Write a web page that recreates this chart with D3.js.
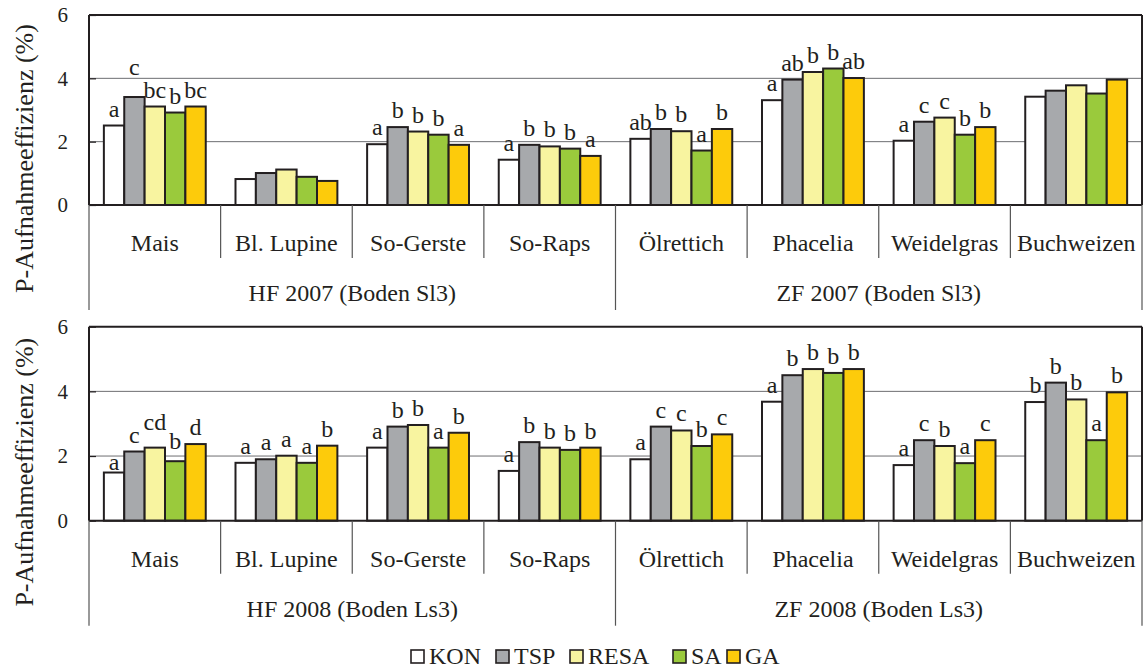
<!DOCTYPE html>
<html>
<head>
<meta charset="utf-8">
<script src="https://cdn.jsdelivr.net/npm/d3@7"></script>
<style>
  html, body { margin: 0; padding: 0; background: #fff; }
  svg { display: block; }
  text { font-family: "Liberation Serif", "Times New Roman", serif; fill: #231f20; }
</style>
</head>
<body>
<svg id="chart" width="1144" height="669"></svg>
<script>
// ---------- data ----------
const categories = ["Mais", "Bl. Lupine", "So-Gerste", "So-Raps", "Ölrettich", "Phacelia", "Weidelgras", "Buchweizen"];
const seriesNames = ["KON", "TSP", "RESA", "SA", "GA"];
const yTickValues = [0, 2, 4, 6];
const yLabel = "P-Aufnahmeeffizienz (%)";
const groups2007 = ["HF 2007 (Boden Sl3)", "ZF 2007 (Boden Sl3)"];
const groups2008 = ["HF 2008 (Boden Ls3)", "ZF 2008 (Boden Ls3)"];

// 2007 values
const kon2007  = [2.51, 0.82, 1.92, 1.43, 2.09, 3.31, 2.03, 3.42];
const tsp2007  = [3.41, 1.01, 2.46, 1.90, 2.40, 3.96, 2.63, 3.61];
const resa2007 = [3.11, 1.12, 2.32, 1.85, 2.33, 4.20, 2.76, 3.78];
const sa2007   = [2.92, 0.89, 2.22, 1.78, 1.72, 4.31, 2.22, 3.52];
const ga2007   = [3.11, 0.76, 1.90, 1.55, 2.40, 4.01, 2.46, 3.96];
// 2007 significance letters
const konSig2007  = ["a", "", "a", "a", "ab", "a", "a", ""];
const tspSig2007  = ["c", "", "b", "b", "b", "ab", "c", ""];
const resaSig2007 = ["bc", "", "b", "b", "b", "b", "c", ""];
const saSig2007   = ["b", "", "b", "b", "a", "b", "b", ""];
const gaSig2007   = ["bc", "", "a", "a", "b", "ab", "b", ""];

// 2008 values
const kon2008  = [1.49, 1.79, 2.26, 1.54, 1.90, 3.68, 1.72, 3.67];
const tsp2008  = [2.14, 1.90, 2.91, 2.43, 2.91, 4.50, 2.49, 4.27];
const resa2008 = [2.26, 2.01, 2.96, 2.26, 2.79, 4.69, 2.31, 3.75];
const sa2008   = [1.84, 1.79, 2.26, 2.19, 2.31, 4.57, 1.78, 2.49];
const ga2008   = [2.37, 2.32, 2.72, 2.26, 2.67, 4.69, 2.49, 3.97];
// 2008 significance letters
const konSig2008  = ["a", "a", "a", "a", "a", "a", "a", "b"];
const tspSig2008  = ["c", "a", "b", "b", "c", "b", "c", "b"];
const resaSig2008 = ["cd", "a", "b", "b", "c", "b", "b", "b"];
const saSig2008   = ["b", "a", "a", "b", "b", "b", "a", "a"];
const gaSig2008   = ["d", "b", "b", "b", "c", "b", "c", "b"];

// ---------- style / layout ----------
const colors = { KON: "#ffffff", TSP: "#a7a9ac", RESA: "#f8f4a0", SA: "#9aca3c", GA: "#fdcb0b" };
const ink = "#231f20";
const left = 89, right = 1142;
const panels = [
  { top: 15, zero: 205,
    values: [kon2007, tsp2007, resa2007, sa2007, ga2007],
    sig: [konSig2007, tspSig2007, resaSig2007, saSig2007, gaSig2007],
    groups: groups2007, lift: { "0-1": 13 } },
  { top: 326.7, zero: 520.7,
    values: [kon2008, tsp2008, resa2008, sa2008, ga2008],
    sig: [konSig2008, tspSig2008, resaSig2008, saSig2008, gaSig2008],
    groups: groups2008, lift: { "0-0": -6, "0-2": 9, "0-3": 3 } }
];

const svg = d3.select("#chart");

const x = d3.scaleBand().domain(categories).range([left, right]).paddingInner(0).paddingOuter(0);
const xs = d3.scaleBand().domain(seriesNames).range([0, x.bandwidth()]).paddingInner(0).paddingOuter(0.73);

panels.forEach((p, pi) => {
  const g = svg.append("g");
  const y = d3.scaleLinear().domain([0, 6]).range([p.zero, p.top]);
  const bottomCat = p.zero + 53;
  const bottomGroup = p.zero + 105;

  // gridlines
  g.append("g").selectAll("line").data(yTickValues.filter(v => v > 0 && v < 6)).join("line")
    .attr("x1", left).attr("x2", right)
    .attr("y1", d => y(d)).attr("y2", d => y(d))
    .attr("stroke", "#6d6e71").attr("stroke-width", 1);

  // inner ticks
  const tickAxis = d3.axisRight(y).tickValues(yTickValues).tickSize(7).tickFormat("");
  const ta = g.append("g").attr("transform", `translate(${left},0)`).call(tickAxis);
  ta.select(".domain").remove();
  ta.selectAll("line").attr("stroke", ink).attr("stroke-width", 1.2);

  // tick labels
  const labAxis = d3.axisLeft(y).tickValues(yTickValues).tickSize(0).tickPadding(21).tickFormat(d3.format("d"));
  const la = g.append("g").attr("transform", `translate(${left},0)`).call(labAxis);
  la.select(".domain").remove();
  la.selectAll("text").attr("font-size", 21).attr("font-family", "Liberation Serif").attr("fill", ink);

  // bars
  seriesNames.forEach((s, si) => {
    const rows = categories.map((c, ci) => ({ c, ci, v: p.values[si][ci], sig: p.sig[si][ci] }));
    g.append("g").selectAll("rect").data(rows).join("rect")
      .attr("x", d => x(d.c) + xs(s))
      .attr("y", d => y(d.v))
      .attr("width", xs.bandwidth())
      .attr("height", d => y(0) - y(d.v))
      .attr("fill", colors[s]).attr("stroke", ink).attr("stroke-width", 2);
    g.append("g").selectAll("text").data(rows.filter(d => d.sig)).join("text")
      .attr("x", d => x(d.c) + xs(s) + xs.bandwidth() / 2)
      .attr("y", d => y(d.v) - 9 - (p.lift[d.ci + "-" + si] || 0))
      .attr("text-anchor", "middle").attr("font-size", 24)
      .text(d => d.sig);
  });

  // frame: top border, left axis, right border, zero line
  g.append("line").attr("x1", left).attr("x2", right).attr("y1", p.top).attr("y2", p.top)
    .attr("stroke", ink).attr("stroke-width", 2);
  g.append("line").attr("x1", left).attr("x2", right).attr("y1", p.zero).attr("y2", p.zero)
    .attr("stroke", ink).attr("stroke-width", 2);
  g.append("line").attr("x1", left).attr("x2", left).attr("y1", p.top).attr("y2", p.zero)
    .attr("stroke", ink).attr("stroke-width", 2);
  g.append("line").attr("x1", right).attr("x2", right).attr("y1", p.top).attr("y2", p.zero)
    .attr("stroke", ink).attr("stroke-width", 2);

  // category dividers below the axis
  const bounds = categories.map(c => x(c)).concat([right]);
  g.append("g").selectAll("line").data(bounds).join("line")
    .attr("x1", d => d).attr("x2", d => d)
    .attr("y1", p.zero)
    .attr("y2", (d, i) => (i % 4 === 0) ? bottomGroup : bottomCat)
    .attr("stroke", "#555").attr("stroke-width", 1.2);

  // category labels
  g.append("g").selectAll("text").data(categories).join("text")
    .attr("x", c => x(c) + x.bandwidth() / 2)
    .attr("y", p.zero + 46)
    .attr("text-anchor", "middle").attr("font-size", 24)
    .text(c => c);

  // group labels
  g.append("g").selectAll("text").data(p.groups).join("text")
    .attr("x", (d, i) => (x(categories[i * 4]) + (i === 0 ? x(categories[4]) : right)) / 2)
    .attr("y", p.zero + 96)
    .attr("text-anchor", "middle").attr("font-size", 24)
    .text(d => d);

  // y label
  const cy = (p.top + bottomGroup) / 2 - 4;
  g.append("text")
    .attr("transform", `translate(33,${cy}) rotate(-90)`)
    .attr("text-anchor", "middle").attr("font-size", 26)
    .text(yLabel);
});

// legend
const legendX = [411, 496, 570, 673, 727];
const lg = svg.append("g");
seriesNames.forEach((s, i) => {
  lg.append("rect").attr("x", legendX[i]).attr("y", 650).attr("width", 13).attr("height", 13)
    .attr("fill", colors[s]).attr("stroke", ink).attr("stroke-width", 1.6);
  lg.append("text").attr("x", legendX[i] + 18).attr("y", 664).attr("font-size", 24).text(s);
});
</script>
</body>
</html>
